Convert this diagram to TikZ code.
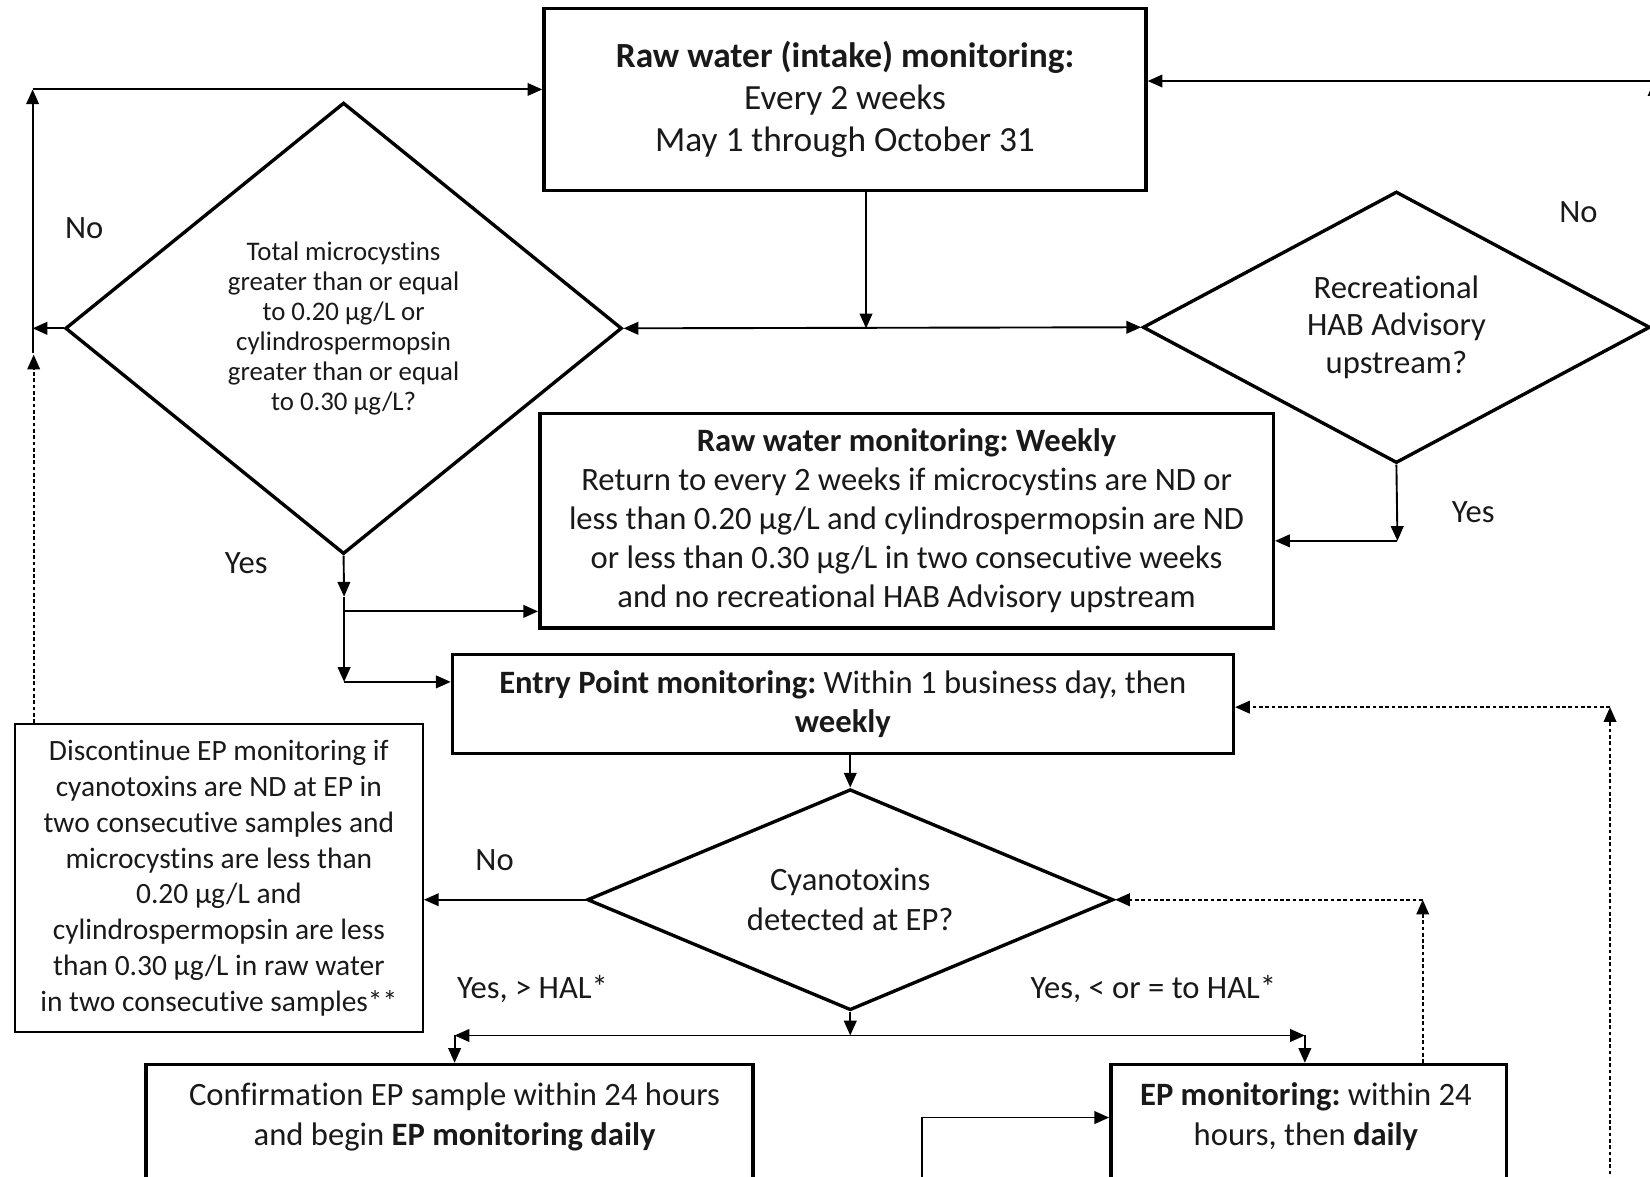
\documentclass[tikz,border=0pt]{standalone}
\usepackage{fontspec}
\setmainfont{Carlito}[Ligatures=NoCommon]
\usetikzlibrary{arrows.meta,shapes.geometric,calc}
\definecolor{txt}{RGB}{25,25,25}
\frenchspacing
\newcommand\fntMain{\fontsize{31}{37}\selectfont}
\newcommand\fntTop{\fontsize{33.6}{40}\selectfont}
\newcommand\fntDia{\fontsize{25.5}{28.6}\selectfont}
\newcommand\fntDisc{\fontsize{28}{34}\selectfont}
\newcommand\fntRec{\fontsize{31}{36}\selectfont}
\newcommand\fntCy{\fontsize{31}{38}\selectfont}
\begin{document}
\frenchspacing
\begin{tikzpicture}[x=1pt,y=1pt,
  every node/.style={text=txt},
  box/.style={draw, line width=3.4pt, rectangle, inner sep=0pt, align=center},
  thinbox/.style={draw, line width=1.8pt, rectangle, inner sep=0pt, align=center},
  dia/.style={draw, diamond, line width=3.2pt, inner sep=0pt, align=center},
  arr/.style={line width=1.8pt, -{Triangle[length=14pt,width=12pt]}},
  arrb/.style={line width=1.8pt, {Triangle[length=14pt,width=12pt]}-{Triangle[length=14pt,width=12pt]}},
  dsh/.style={line width=1.6pt, dash pattern=on 3.5pt off 2.5pt},
  lbl/.style={font=\fntMain, inner sep=0pt}
]
\useasboundingbox (0,0) rectangle (1568,-1118);
\clip (0,0) rectangle (1568,-1118);

% boxes and decisions
\node[box, minimum width=572, minimum height=173, font=\fntTop] (raw) at (803,-94.5)
  {\textbf{Raw water (intake) monitoring:}\\Every 2 weeks\\May 1 through October 31};
\node[dia, minimum width=529, minimum height=429, font=\fntDia] (d1) at (326.5,-312)
  {Total microcystins\\greater than or equal\\to 0.20 µg/L or\\cylindrospermopsin\\greater than or equal\\to 0.30 µg/L?};
\node[dia, aspect=2, minimum width=482, minimum height=258, font=\fntRec] (d2) at (1327,-311)
  {Recreational\\HAB Advisory\\upstream?};
\node[box, minimum width=697, minimum height=204, font=\fntMain] (weekly) at (861.5,-495)
  {\textbf{Raw water monitoring: Weekly}\\Return to every 2 weeks if microcystins are ND or\\less than 0.20 µg/L and cylindrospermopsin are ND\\or less than 0.30 µg/L in two consecutive weeks\\and no recreational HAB Advisory upstream};
\node[box, minimum width=742, minimum height=94, font=\fntMain] (entry) at (801,-669)
  {\textbf{Entry Point monitoring:} Within 1 business day, then\\\textbf{weekly}};
\node[thinbox, minimum width=388, minimum height=293, font=\fntDisc] (disc) at (208,-834.5)
  {Discontinue EP monitoring if\\cyanotoxins are ND at EP in\\two consecutive samples and\\microcystins are less than\\0.20 µg/L and\\cylindrospermopsin are less\\than 0.30 µg/L in raw water\\in two consecutive samples**};
\node[dia, aspect=2, minimum width=500, minimum height=210, font=\fntCy] (d3) at (808,-855)
  {Cyanotoxins\\detected at EP?};
\node[box, minimum width=577, minimum height=200, anchor=north west] (conf) at (137,-1010) {};
\node[anchor=base, align=center, font=\fntCy, inner sep=0pt] (conft) at (432,-1089)
  {Confirmation EP sample within 24 hours\\and begin \textbf{EP monitoring daily}};
\node[box, minimum width=376, minimum height=200, anchor=north west] (ep) at (1054,-1010) {};
\node[anchor=base, align=center, font=\fntCy, inner sep=0pt] (ept) at (1241,-1089)
  {\textbf{EP monitoring:} within 24\\hours, then \textbf{daily}};

% labels
\node[lbl] (no1) at (80,-217) {No};
\node[lbl] (no2) at (1500,-202) {No};
\node[lbl] (yes1) at (234,-535) {Yes};
\node[lbl] (yes2) at (1400,-487) {Yes};
\node[lbl] (no3) at (470,-817) {No};
\node[lbl] (yh1) at (506,-940) {Yes, > HAL*};
\node[lbl] (yh2) at (1096,-940) {Yes, < or = to HAL*};

% coordinates
\coordinate (j1) at (823,-312);
\coordinate (l1) at (31,-312);
\coordinate (l0) at (31,-335);
\coordinate (l2) at (31,-85);
\coordinate (ld) at (32,-337);
\coordinate (r1) at (1572,-77);
\coordinate (ya) at (1328,-514);
\coordinate (yb) at (327,-567);
\coordinate (yc) at (327,-581);
\coordinate (yd) at (327,-648);
\coordinate (h0) at (808,-984);
\coordinate (hl) at (432,-984);
\coordinate (hr) at (1240,-984);
\coordinate (e0) at (876,-1140);
\coordinate (e1) at (876,-1062);
\coordinate (c1) at (1352,-855);
\coordinate (c2) at (1530,-672);
\coordinate (c3) at (1530,-1140);

% connectors
\draw[arr] (raw.south -| j1) -- (j1);
\draw[arrb] (d1.east) -- (d2.west);
\draw[arr] (d1.west) -- (l1);
\draw[arr] (l0) -- (l2);
\draw[arr] (l2) -- (l2 -| raw.west);
\draw[arr, dsh] (disc.north -| ld) -- (ld);
\draw[arr] (d2.east -| r1) -- (r1);
\draw[arr] (r1) -- (r1 -| raw.east);
\draw[arr] (d2.south) -- (ya);
\draw[arr] (ya) -- (ya -| weekly.east);
\draw[arr] (d1.south) -- (yb);
\draw[arr] (yb) -- (yd);
\draw[arr] (yc) -- (yc -| weekly.west);
\draw[arr] (yd) -- (yd -| entry.west);
\draw[arr] (entry.south -| d3.north) -- (d3.north);
\draw[arr] (d3.west) -- (d3.west -| disc.east);
\draw[arr] (d3.south) -- (h0);
\draw[arrb] (hl) -- (hr);
\draw[arr] (hl) -- (hl |- conf.north);
\draw[arr] (hr) -- (hr |- ep.north);
\draw[arr] (e0) -- (e1) -- (e1 -| ep.west);
\draw[arr, dsh] (ep.north -| c1) -- (c1);
\draw[arr, dsh] (c1) -- (d3.east);
\draw[arr, dsh] (c3) -- (c2);
\draw[arr, dsh] (c2) -- (c2 -| entry.east);
\end{tikzpicture}
\end{document}
